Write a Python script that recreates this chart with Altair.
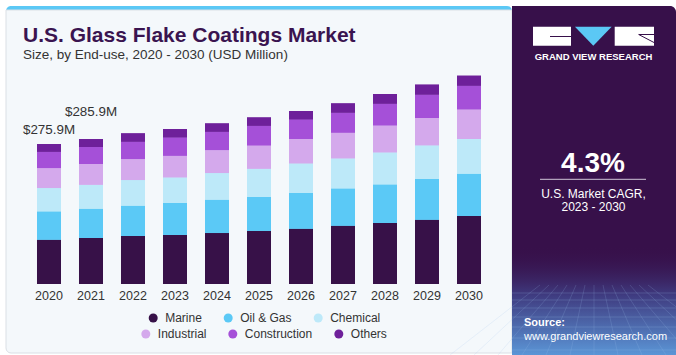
import altair as alt
import pandas as pd

FONT = "Liberation Sans"

years = ["2020", "2021", "2022", "2023", "2024", "2025", "2026", "2027", "2028", "2029", "2030"]
segments = ["Marine", "Oil & Gas", "Chemical", "Industrial", "Construction", "Others"]
colors = ["#371148", "#5bc9f6", "#bde9f9", "#d4a9ec", "#a550d8", "#6e209a"]

marine = [87.3, 90.7, 94.6, 96.6, 100.5, 104.5, 109.0, 115.0, 120.3, 126.8, 134.1]
oil_gas = [55.8, 57.8, 59.8, 63.1, 65.7, 67.0, 70.4, 73.5, 76.1, 80.3, 83.4]
chemical = [46.1, 47.3, 50.6, 50.5, 52.6, 55.8, 58.4, 59.2, 63.1, 66.3, 68.4]
industrial = [39.4, 40.8, 41.4, 42.7, 45.3, 45.9, 48.1, 50.7, 53.2, 54.0, 58.4]
construction = [32.1, 33.5, 34.2, 36.1, 36.1, 38.8, 38.6, 39.4, 42.8, 46.0, 46.7]
others = [15.2, 15.8, 16.4, 16.5, 16.4, 16.4, 16.6, 18.3, 19.1, 19.7, 19.7]

label_years = ["2020", "2021"]
label_texts = ["$275.9M", "$285.9M"]

series = [marine, oil_gas, chemical, industrial, construction, others]
rows = []
for si, (seg, vals) in enumerate(zip(segments, series)):
    for yr, v in zip(years, vals):
        rows.append({"year": yr, "segment": seg, "value": v, "order": si})
df = pd.DataFrame(rows)

totals = {yr: sum(s[i] for s in series) for i, yr in enumerate(years)}
lab_df = pd.DataFrame({"year": label_years, "label": label_texts,
                       "total": [totals[y] for y in label_years]})

one = pd.DataFrame({"k": [0]})

X = alt.X("year:N", sort=years,
          scale=alt.Scale(paddingInner=0.4286, paddingOuter=0.3333),
          axis=alt.Axis(title=None, labelAngle=0, ticks=False, domain=False, grid=False,
                        labelPadding=5, labelFontSize=12.5, labelColor="#333333",
                        labelFont=FONT, zindex=1))
Y = alt.Y("value:Q", stack="zero", scale=alt.Scale(domain=[0, 420], nice=False), axis=None)
ORD = alt.Order("order:Q", sort="ascending")

leg_common = dict(orient="none", direction="horizontal", title=None, symbolType="circle",
                  symbolSize=81, symbolStrokeWidth=0, labelFontSize=12, labelFont=FONT,
                  labelColor="#333333", columnPadding=20, labelOffset=6, padding=0)

# hidden layer providing legend row 2 (reordered domain to keep legends separate)
dom2 = segments[3:] + segments[:3]
rng2 = colors[3:] + colors[:3]
barsA = alt.Chart(df).mark_bar().encode(
    x=X, y=Y, order=ORD,
    fill=alt.Fill("segment:N", scale=alt.Scale(domain=dom2, range=rng2),
                  legend=alt.Legend(values=segments[3:], legendX=116.8, legendY=257, **leg_common)),
)
barsB = alt.Chart(df).mark_bar().encode(
    x=X, y=Y, order=ORD,
    color=alt.Color("segment:N", scale=alt.Scale(domain=segments, range=colors),
                    legend=alt.Legend(values=segments[:3], legendX=124.2, legendY=241, **leg_common)),
)

lab1 = alt.Chart(lab_df[lab_df.year == "2020"]).mark_text(
    font=FONT, fontSize=13.4, color="#333333", dy=-10, baseline="alphabetic"
).encode(x=alt.X("year:N", sort=years), y=alt.Y("total:Q"), text="label:N")
lab2 = alt.Chart(lab_df[lab_df.year == "2021"]).mark_text(
    font=FONT, fontSize=13.4, color="#333333", dy=-23, baseline="alphabetic"
).encode(x=alt.X("year:N", sort=years), y=alt.Y("total:Q"), text="label:N")


def rect(x, x2, y, y2, **kw):
    return alt.Chart(one).mark_rect(**kw).encode(
        x=alt.value(x), x2=alt.value(x2), y=alt.value(y), y2=alt.value(y2))


def txt(s, x, y, **kw):
    return alt.Chart(one).mark_text(text=s, font=FONT, baseline="alphabetic", **kw).encode(
        x=alt.value(x), y=alt.value(y))


def rule(x, x2, y, y2, **kw):
    return alt.Chart(one).mark_rule(**kw).encode(
        x=alt.value(x), x2=alt.value(x2), y=alt.value(y), y2=alt.value(y2))


stripe = rect(-17, 489, -65, -50, color="#5bc8f5", cornerRadius=5)
card = rect(-17, 489, -61, 282, color="#f4f8fb", stroke="#dadfe5", strokeWidth=1,
            cornerRadiusBottomLeft=5)
panel = rect(489, 653, -65, 284, color="#37104a", cornerRadiusTopRight=6)
grad = rect(489, 653, 175, 284, color=alt.LinearGradient(
    gradient="linear",
    stops=[alt.GradientStop(color="rgba(55,16,74,0)", offset=0),
           alt.GradientStop(color="#3f3b80", offset=0.45),
           alt.GradientStop(color="#5b95d6", offset=1)],
    x1=0, x2=0, y1=0, y2=1))

# faint wireframe texture at the bottom of the side panel (decorative)
wire = []
for yy in [222, 229, 237, 246, 256, 267, 279]:
    wire.append(rule(489, 653, yy, yy, color="#9fc3ee", strokeWidth=0.6, opacity=0.35))
for k in range(-6, 7):
    wire.append(rule(571 + k * 9, 571 + k * 24, 214, 284, color="#9fc3ee", strokeWidth=0.6,
                     opacity=0.3))
wire_layer = alt.layer(*wire)

logo_l = rect(510, 548, -44.3, -25.3, color="white")
logo_l_notch = rect(527, 548, -35, -34, color="#37104a")
logo_r = rect(591.7, 631, -44.3, -25.3, color="white")
logo_r_l1 = rule(615.7, 631, -36.5, -36.5, color="#37104a", strokeWidth=1)
logo_r_l2 = rule(615.7, 631, -36.5, -28.5, color="#37104a", strokeWidth=1)
tri = alt.Chart(one).mark_point(shape="M-1,-0.52L1,-0.52L0,0.52Z", size=1347, filled=True,
                                color="#5bc8f5", opacity=1, strokeWidth=0).encode(
    x=alt.value(570.3), y=alt.value(-34.8))

t_brand = txt("GRAND VIEW RESEARCH", 570.5, -11.5, align="center", fontSize=9.5,
              fontWeight="bold", color="white")
t_cagr = txt("4.3%", 570, 101, align="center", fontSize=28, fontWeight="bold", color="white")
cagr_line = rule(517, 623, 108.3, 108.3, color="#cfc6d8", strokeWidth=1)
t_cagr1 = txt("U.S. Market CAGR,", 570.5, 127, align="center", fontSize=12, color="white")
t_cagr2 = txt("2023 - 2030", 570.5, 140, align="center", fontSize=12, color="white")
t_src = txt("Source:", 501, 255, align="left", fontSize=11, fontWeight="bold", color="white")
t_url = txt("www.grandviewresearch.com", 501, 269, align="left", fontSize=11, color="white")

t_title = txt("U.S. Glass Flake Coatings Market", 0, -29.3, align="left", fontSize=21,
              fontWeight="bold", color="#3a1450")
t_sub = txt("Size, by End-use, 2020 - 2030 (USD Million)", 0, -12.3, align="left",
            fontSize=13.5, color="#333333")

chart = alt.layer(
    stripe, card, panel, grad, wire_layer, logo_l, logo_l_notch, logo_r, logo_r_l1, logo_r_l2, tri,
    t_brand, t_cagr, cagr_line, t_cagr1, t_cagr2, t_src, t_url, t_title, t_sub,
    barsA, barsB, lab1, lab2,
).properties(
    width=472, height=213,
    padding={"left": 23, "top": 71, "right": 181, "bottom": 71},
    autosize=alt.AutoSizeParams(type="none"),
).configure(font=FONT, background="white").configure_view(stroke=None)

chart.save("out.html", embed_options={"renderer": "svg", "actions": False})
